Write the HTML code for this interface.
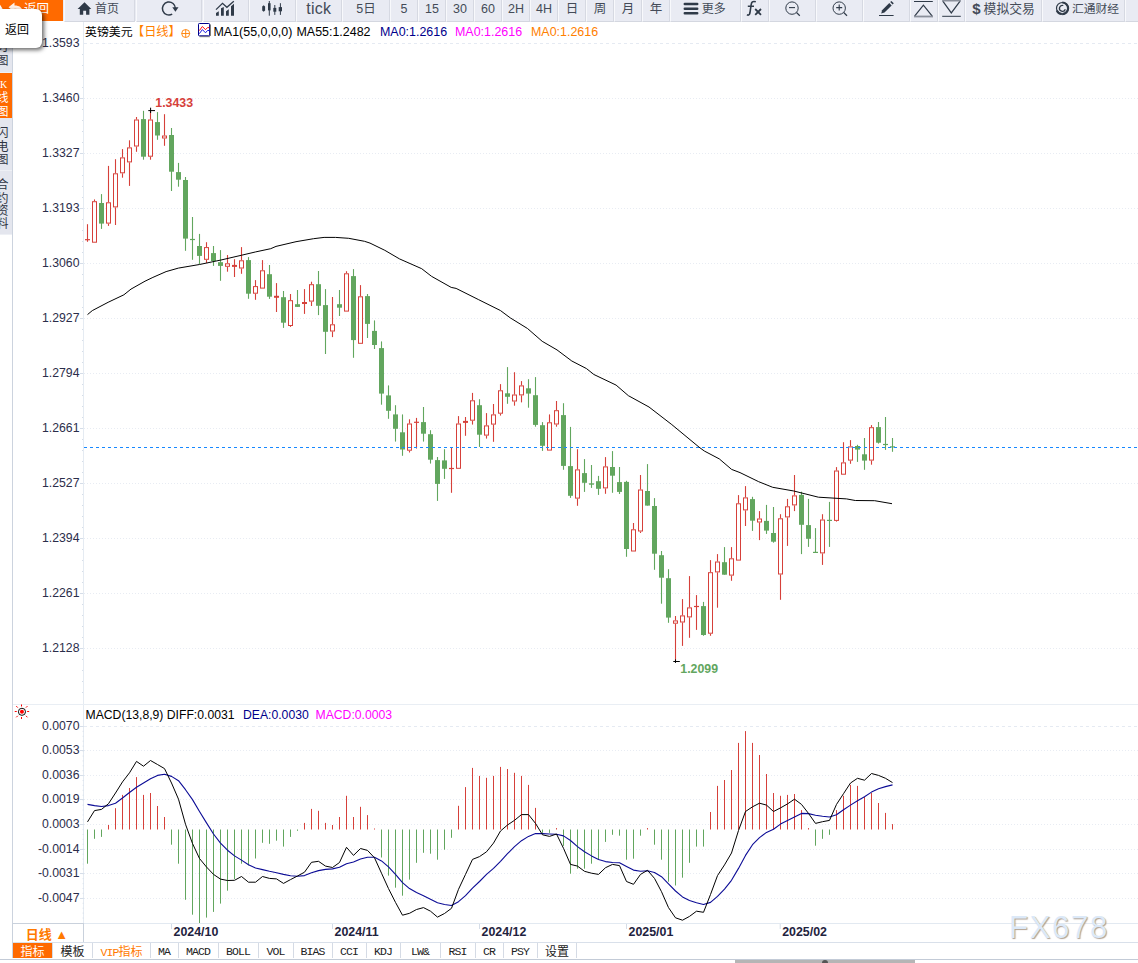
<!DOCTYPE html>
<html><head><meta charset="utf-8"><title>chart</title>
<style>
html,body{margin:0;padding:0;background:#fff}
body{width:1138px;height:963px;position:relative;overflow:hidden;font-family:"Liberation Sans","Noto Sans CJK SC",sans-serif;font-size:12px;color:#000}
#tbar{position:absolute;left:0;top:0;width:1138px;height:21px;background:#e9ebf3}
.tb{position:absolute;top:0;height:22px;box-sizing:border-box;border-left:1px solid #f8f9fc;border-right:1px solid #d6d9e2;border-bottom:1px solid #d4d7e0;display:flex;align-items:center;justify-content:center;padding-bottom:3px;line-height:18px;font-size:13px;color:#444b58;white-space:nowrap;overflow:hidden}
.tb svg{display:inline-block}
.cj{font-size:12.5px}
#back{position:absolute;left:0;top:0;width:63px;height:21px;background:#ff6a00;color:#fff;line-height:19px;font-size:13px}
#tip{position:absolute;left:-6px;top:9px;width:47.5px;height:39px;background:#fff;border-radius:6px;box-shadow:2px 2px 4px rgba(0,0,0,.6);font-size:12px;line-height:43px;color:#000}
#tip span{position:absolute;left:11px;top:0}
#side{position:absolute;left:0;top:21px;width:12px;height:937px;overflow:hidden;border-right:1px solid #ccd3de;background:#fff}
.st{position:absolute;left:0;width:12px;overflow:hidden;background:#e4e6ee;color:#333a48;font-family:"Liberation Serif","Noto Sans CJK SC",sans-serif;font-size:12px;line-height:13.5px;border-bottom:1px solid #eef0f5;box-sizing:border-box}
.sc{position:absolute;left:-3.5px;width:12px;height:12px;line-height:12px;font-size:12px;text-align:center;color:#2e3442;font-family:"Noto Sans CJK SC",sans-serif;overflow:visible}
.st i{font-style:normal;display:block;margin-left:-4.5px;width:14px;text-align:center}
svg text.ax{font-size:12.25px;fill:#2b2d4a;font-family:"Liberation Sans",sans-serif}
svg text.hl{font-size:12.35px;font-weight:bold;font-family:"Liberation Sans",sans-serif}
svg text.dt{font-size:12.4px;font-weight:bold;fill:#1f2340;font-family:"Liberation Sans",sans-serif}
#chart{position:absolute;left:0;top:0}
.lg{position:absolute;top:24.5px;font-size:12.45px;line-height:14px;white-space:nowrap}
#per{position:absolute;left:12px;top:923px;width:70px;height:18px;border:1px solid #c9d1dc;box-sizing:content-box;background:#fff;color:#ff7a00;font-weight:bold;font-size:13px;line-height:21px;text-align:center;text-indent:-2px}
#tabs{position:absolute;left:13px;top:942px;width:1125px;height:16px;border-top:1px solid #d9e0ea;background:#fff}
#bl{position:absolute;left:0;top:959px;width:1138px;height:1px;background:#c3cbd7}
.tab{position:absolute;top:0;height:15px;line-height:15px;text-align:center;font-family:"Noto Sans CJK SC",sans-serif;font-size:12px;color:#222;border-right:1px solid #d5dbe5;box-sizing:content-box;white-space:nowrap}
.tab.on{background:#ff6a00;color:#fff}
.tab.vip{color:#ff7a00}
.tab.m{font-family:"Liberation Mono",monospace;font-size:11.5px;letter-spacing:-0.9px;color:#222;line-height:18px;text-indent:-0.9px}
#wm{position:absolute;left:1009px;top:910px;font-size:31px;letter-spacing:1.7px;color:#dce9f8;text-shadow:1px 1px 1px rgba(150,130,110,.75);line-height:36px;font-family:"Liberation Sans",sans-serif}
#thumb{position:absolute;left:735px;top:960px;width:180px;height:3px;background:#b5b5b5}
</style></head><body>
<svg id="chart" width="1138" height="963" viewBox="0 0 1138 963">
<line x1="84" y1="43.5" x2="1138" y2="43.5" stroke="#e5eaf2" stroke-dasharray="3 3"/>
<text x="79.5" y="47.2" text-anchor="end" class="ax">1.3593</text>
<line x1="84" y1="98.5" x2="1138" y2="98.5" stroke="#e8ecf3" stroke-dasharray="1 2"/>
<line x1="80" y1="98.5" x2="84" y2="98.5" stroke="#d5dde8"/>
<text x="79.5" y="102.2" text-anchor="end" class="ax">1.3460</text>
<line x1="84" y1="153.5" x2="1138" y2="153.5" stroke="#e8ecf3" stroke-dasharray="1 2"/>
<line x1="80" y1="153.5" x2="84" y2="153.5" stroke="#d5dde8"/>
<text x="79.5" y="157.2" text-anchor="end" class="ax">1.3327</text>
<line x1="84" y1="208.5" x2="1138" y2="208.5" stroke="#e8ecf3" stroke-dasharray="1 2"/>
<line x1="80" y1="208.5" x2="84" y2="208.5" stroke="#d5dde8"/>
<text x="79.5" y="212.2" text-anchor="end" class="ax">1.3193</text>
<line x1="84" y1="263.5" x2="1138" y2="263.5" stroke="#e8ecf3" stroke-dasharray="1 2"/>
<line x1="80" y1="263.5" x2="84" y2="263.5" stroke="#d5dde8"/>
<text x="79.5" y="267.2" text-anchor="end" class="ax">1.3060</text>
<line x1="84" y1="318.5" x2="1138" y2="318.5" stroke="#e8ecf3" stroke-dasharray="1 2"/>
<line x1="80" y1="318.5" x2="84" y2="318.5" stroke="#d5dde8"/>
<text x="79.5" y="322.2" text-anchor="end" class="ax">1.2927</text>
<line x1="84" y1="373.5" x2="1138" y2="373.5" stroke="#e8ecf3" stroke-dasharray="1 2"/>
<line x1="80" y1="373.5" x2="84" y2="373.5" stroke="#d5dde8"/>
<text x="79.5" y="377.2" text-anchor="end" class="ax">1.2794</text>
<line x1="84" y1="428.5" x2="1138" y2="428.5" stroke="#e8ecf3" stroke-dasharray="1 2"/>
<line x1="80" y1="428.5" x2="84" y2="428.5" stroke="#d5dde8"/>
<text x="79.5" y="432.2" text-anchor="end" class="ax">1.2661</text>
<line x1="84" y1="483.5" x2="1138" y2="483.5" stroke="#e8ecf3" stroke-dasharray="1 2"/>
<line x1="80" y1="483.5" x2="84" y2="483.5" stroke="#d5dde8"/>
<text x="79.5" y="487.2" text-anchor="end" class="ax">1.2527</text>
<line x1="84" y1="538.5" x2="1138" y2="538.5" stroke="#e8ecf3" stroke-dasharray="1 2"/>
<line x1="80" y1="538.5" x2="84" y2="538.5" stroke="#d5dde8"/>
<text x="79.5" y="542.2" text-anchor="end" class="ax">1.2394</text>
<line x1="84" y1="593.5" x2="1138" y2="593.5" stroke="#e8ecf3" stroke-dasharray="1 2"/>
<line x1="80" y1="593.5" x2="84" y2="593.5" stroke="#d5dde8"/>
<text x="79.5" y="597.2" text-anchor="end" class="ax">1.2261</text>
<line x1="84" y1="648.5" x2="1138" y2="648.5" stroke="#e8ecf3" stroke-dasharray="1 2"/>
<line x1="80" y1="648.5" x2="84" y2="648.5" stroke="#d5dde8"/>
<text x="79.5" y="652.2" text-anchor="end" class="ax">1.2128</text>
<line x1="82" y1="54.5" x2="84" y2="54.5" stroke="#d5dde8"/>
<line x1="82" y1="65.5" x2="84" y2="65.5" stroke="#d5dde8"/>
<line x1="82" y1="76.5" x2="84" y2="76.5" stroke="#d5dde8"/>
<line x1="82" y1="87.5" x2="84" y2="87.5" stroke="#d5dde8"/>
<line x1="82" y1="109.5" x2="84" y2="109.5" stroke="#d5dde8"/>
<line x1="82" y1="120.5" x2="84" y2="120.5" stroke="#d5dde8"/>
<line x1="82" y1="131.5" x2="84" y2="131.5" stroke="#d5dde8"/>
<line x1="82" y1="142.5" x2="84" y2="142.5" stroke="#d5dde8"/>
<line x1="82" y1="164.5" x2="84" y2="164.5" stroke="#d5dde8"/>
<line x1="82" y1="175.5" x2="84" y2="175.5" stroke="#d5dde8"/>
<line x1="82" y1="186.5" x2="84" y2="186.5" stroke="#d5dde8"/>
<line x1="82" y1="197.5" x2="84" y2="197.5" stroke="#d5dde8"/>
<line x1="82" y1="219.5" x2="84" y2="219.5" stroke="#d5dde8"/>
<line x1="82" y1="230.5" x2="84" y2="230.5" stroke="#d5dde8"/>
<line x1="82" y1="241.5" x2="84" y2="241.5" stroke="#d5dde8"/>
<line x1="82" y1="252.5" x2="84" y2="252.5" stroke="#d5dde8"/>
<line x1="82" y1="274.5" x2="84" y2="274.5" stroke="#d5dde8"/>
<line x1="82" y1="285.5" x2="84" y2="285.5" stroke="#d5dde8"/>
<line x1="82" y1="296.5" x2="84" y2="296.5" stroke="#d5dde8"/>
<line x1="82" y1="307.5" x2="84" y2="307.5" stroke="#d5dde8"/>
<line x1="82" y1="329.5" x2="84" y2="329.5" stroke="#d5dde8"/>
<line x1="82" y1="340.5" x2="84" y2="340.5" stroke="#d5dde8"/>
<line x1="82" y1="351.5" x2="84" y2="351.5" stroke="#d5dde8"/>
<line x1="82" y1="362.5" x2="84" y2="362.5" stroke="#d5dde8"/>
<line x1="82" y1="384.5" x2="84" y2="384.5" stroke="#d5dde8"/>
<line x1="82" y1="395.5" x2="84" y2="395.5" stroke="#d5dde8"/>
<line x1="82" y1="406.5" x2="84" y2="406.5" stroke="#d5dde8"/>
<line x1="82" y1="417.5" x2="84" y2="417.5" stroke="#d5dde8"/>
<line x1="82" y1="439.5" x2="84" y2="439.5" stroke="#d5dde8"/>
<line x1="82" y1="450.5" x2="84" y2="450.5" stroke="#d5dde8"/>
<line x1="82" y1="461.5" x2="84" y2="461.5" stroke="#d5dde8"/>
<line x1="82" y1="472.5" x2="84" y2="472.5" stroke="#d5dde8"/>
<line x1="82" y1="494.5" x2="84" y2="494.5" stroke="#d5dde8"/>
<line x1="82" y1="505.5" x2="84" y2="505.5" stroke="#d5dde8"/>
<line x1="82" y1="516.5" x2="84" y2="516.5" stroke="#d5dde8"/>
<line x1="82" y1="527.5" x2="84" y2="527.5" stroke="#d5dde8"/>
<line x1="82" y1="549.5" x2="84" y2="549.5" stroke="#d5dde8"/>
<line x1="82" y1="560.5" x2="84" y2="560.5" stroke="#d5dde8"/>
<line x1="82" y1="571.5" x2="84" y2="571.5" stroke="#d5dde8"/>
<line x1="82" y1="582.5" x2="84" y2="582.5" stroke="#d5dde8"/>
<line x1="82" y1="604.5" x2="84" y2="604.5" stroke="#d5dde8"/>
<line x1="82" y1="615.5" x2="84" y2="615.5" stroke="#d5dde8"/>
<line x1="82" y1="626.5" x2="84" y2="626.5" stroke="#d5dde8"/>
<line x1="82" y1="637.5" x2="84" y2="637.5" stroke="#d5dde8"/>
<line x1="82" y1="659.5" x2="84" y2="659.5" stroke="#d5dde8"/>
<line x1="82" y1="670.5" x2="84" y2="670.5" stroke="#d5dde8"/>
<line x1="82" y1="681.5" x2="84" y2="681.5" stroke="#d5dde8"/>
<line x1="82" y1="692.5" x2="84" y2="692.5" stroke="#d5dde8"/>
<line x1="83.5" y1="22" x2="83.5" y2="923" stroke="#e5ebf2"/>
<line x1="13" y1="704.5" x2="1138" y2="704.5" stroke="#e9eef4"/>
<line x1="84" y1="726.5" x2="1138" y2="726.5" stroke="#e5eaf2" stroke-dasharray="3 3"/>
<line x1="80" y1="726.5" x2="84" y2="726.5" stroke="#d5dde8"/>
<text x="79.5" y="730.2" text-anchor="end" class="ax">0.0070</text>
<line x1="84" y1="750.5" x2="1138" y2="750.5" stroke="#e8ecf3" stroke-dasharray="1 2"/>
<line x1="80" y1="750.5" x2="84" y2="750.5" stroke="#d5dde8"/>
<text x="79.5" y="754.4000000000001" text-anchor="end" class="ax">0.0053</text>
<line x1="84" y1="775.5" x2="1138" y2="775.5" stroke="#e8ecf3" stroke-dasharray="1 2"/>
<line x1="80" y1="775.5" x2="84" y2="775.5" stroke="#d5dde8"/>
<text x="79.5" y="779.0" text-anchor="end" class="ax">0.0036</text>
<line x1="84" y1="799.5" x2="1138" y2="799.5" stroke="#e8ecf3" stroke-dasharray="1 2"/>
<line x1="80" y1="799.5" x2="84" y2="799.5" stroke="#d5dde8"/>
<text x="79.5" y="803.3000000000001" text-anchor="end" class="ax">0.0019</text>
<line x1="84" y1="824.5" x2="1138" y2="824.5" stroke="#e8ecf3" stroke-dasharray="1 2"/>
<line x1="80" y1="824.5" x2="84" y2="824.5" stroke="#d5dde8"/>
<text x="79.5" y="828.3000000000001" text-anchor="end" class="ax">0.0003</text>
<line x1="84" y1="849.5" x2="1138" y2="849.5" stroke="#e8ecf3" stroke-dasharray="1 2"/>
<line x1="80" y1="849.5" x2="84" y2="849.5" stroke="#d5dde8"/>
<text x="79.5" y="853.2" text-anchor="end" class="ax">-0.0014</text>
<line x1="84" y1="873.5" x2="1138" y2="873.5" stroke="#e8ecf3" stroke-dasharray="1 2"/>
<line x1="80" y1="873.5" x2="84" y2="873.5" stroke="#d5dde8"/>
<text x="79.5" y="877.3000000000001" text-anchor="end" class="ax">-0.0031</text>
<line x1="84" y1="898.5" x2="1138" y2="898.5" stroke="#e8ecf3" stroke-dasharray="1 2"/>
<line x1="80" y1="898.5" x2="84" y2="898.5" stroke="#d5dde8"/>
<text x="79.5" y="901.9000000000001" text-anchor="end" class="ax">-0.0047</text>
<line x1="82.5" y1="726.5" x2="84" y2="726.5" stroke="#dbe2ec" stroke-width="0.8"/>
<line x1="82.5" y1="731.4" x2="84" y2="731.4" stroke="#dbe2ec" stroke-width="0.8"/>
<line x1="82.5" y1="736.3" x2="84" y2="736.3" stroke="#dbe2ec" stroke-width="0.8"/>
<line x1="82.5" y1="741.2" x2="84" y2="741.2" stroke="#dbe2ec" stroke-width="0.8"/>
<line x1="82.5" y1="746.1" x2="84" y2="746.1" stroke="#dbe2ec" stroke-width="0.8"/>
<line x1="82.5" y1="751.0" x2="84" y2="751.0" stroke="#dbe2ec" stroke-width="0.8"/>
<line x1="82.5" y1="756.0" x2="84" y2="756.0" stroke="#dbe2ec" stroke-width="0.8"/>
<line x1="82.5" y1="760.9" x2="84" y2="760.9" stroke="#dbe2ec" stroke-width="0.8"/>
<line x1="82.5" y1="765.8" x2="84" y2="765.8" stroke="#dbe2ec" stroke-width="0.8"/>
<line x1="82.5" y1="770.7" x2="84" y2="770.7" stroke="#dbe2ec" stroke-width="0.8"/>
<line x1="82.5" y1="775.6" x2="84" y2="775.6" stroke="#dbe2ec" stroke-width="0.8"/>
<line x1="82.5" y1="780.5" x2="84" y2="780.5" stroke="#dbe2ec" stroke-width="0.8"/>
<line x1="82.5" y1="785.4" x2="84" y2="785.4" stroke="#dbe2ec" stroke-width="0.8"/>
<line x1="82.5" y1="790.3" x2="84" y2="790.3" stroke="#dbe2ec" stroke-width="0.8"/>
<line x1="82.5" y1="795.2" x2="84" y2="795.2" stroke="#dbe2ec" stroke-width="0.8"/>
<line x1="82.5" y1="800.1" x2="84" y2="800.1" stroke="#dbe2ec" stroke-width="0.8"/>
<line x1="82.5" y1="805.1" x2="84" y2="805.1" stroke="#dbe2ec" stroke-width="0.8"/>
<line x1="82.5" y1="810.0" x2="84" y2="810.0" stroke="#dbe2ec" stroke-width="0.8"/>
<line x1="82.5" y1="814.9" x2="84" y2="814.9" stroke="#dbe2ec" stroke-width="0.8"/>
<line x1="82.5" y1="819.8" x2="84" y2="819.8" stroke="#dbe2ec" stroke-width="0.8"/>
<line x1="82.5" y1="824.7" x2="84" y2="824.7" stroke="#dbe2ec" stroke-width="0.8"/>
<line x1="82.5" y1="829.6" x2="84" y2="829.6" stroke="#dbe2ec" stroke-width="0.8"/>
<line x1="82.5" y1="834.5" x2="84" y2="834.5" stroke="#dbe2ec" stroke-width="0.8"/>
<line x1="82.5" y1="839.4" x2="84" y2="839.4" stroke="#dbe2ec" stroke-width="0.8"/>
<line x1="82.5" y1="844.3" x2="84" y2="844.3" stroke="#dbe2ec" stroke-width="0.8"/>
<line x1="82.5" y1="849.2" x2="84" y2="849.2" stroke="#dbe2ec" stroke-width="0.8"/>
<line x1="82.5" y1="854.2" x2="84" y2="854.2" stroke="#dbe2ec" stroke-width="0.8"/>
<line x1="82.5" y1="859.1" x2="84" y2="859.1" stroke="#dbe2ec" stroke-width="0.8"/>
<line x1="82.5" y1="864.0" x2="84" y2="864.0" stroke="#dbe2ec" stroke-width="0.8"/>
<line x1="82.5" y1="868.9" x2="84" y2="868.9" stroke="#dbe2ec" stroke-width="0.8"/>
<line x1="82.5" y1="873.8" x2="84" y2="873.8" stroke="#dbe2ec" stroke-width="0.8"/>
<line x1="82.5" y1="878.7" x2="84" y2="878.7" stroke="#dbe2ec" stroke-width="0.8"/>
<line x1="82.5" y1="883.6" x2="84" y2="883.6" stroke="#dbe2ec" stroke-width="0.8"/>
<line x1="82.5" y1="888.5" x2="84" y2="888.5" stroke="#dbe2ec" stroke-width="0.8"/>
<line x1="82.5" y1="893.4" x2="84" y2="893.4" stroke="#dbe2ec" stroke-width="0.8"/>
<line x1="82.5" y1="898.3" x2="84" y2="898.3" stroke="#dbe2ec" stroke-width="0.8"/>
<line x1="82.5" y1="903.3" x2="84" y2="903.3" stroke="#dbe2ec" stroke-width="0.8"/>
<line x1="82.5" y1="908.2" x2="84" y2="908.2" stroke="#dbe2ec" stroke-width="0.8"/>
<line x1="82.5" y1="913.1" x2="84" y2="913.1" stroke="#dbe2ec" stroke-width="0.8"/>
<line x1="82.5" y1="918.0" x2="84" y2="918.0" stroke="#dbe2ec" stroke-width="0.8"/>
<line x1="87.5" y1="224.2" x2="87.5" y2="241.8" stroke="#d6403a" stroke-width="1.1"/>
<line x1="85.0" y1="239.7" x2="90.0" y2="239.7" stroke="#d6403a" stroke-width="1.2"/>
<line x1="94.5" y1="199.4" x2="94.5" y2="201.2" stroke="#d6403a" stroke-width="1.1"/>
<rect x="92.5" y="201.7" width="4" height="40.5" fill="#fff" stroke="#d6403a" stroke-width="1"/>
<line x1="101.5" y1="194.1" x2="101.5" y2="228.9" stroke="#62a65e" stroke-width="1.1"/>
<rect x="99.0" y="203.0" width="5" height="20.6" fill="#62a65e"/>
<line x1="108.5" y1="165.9" x2="108.5" y2="202.3" stroke="#d6403a" stroke-width="1.1"/>
<line x1="108.5" y1="223.6" x2="108.5" y2="225.9" stroke="#d6403a" stroke-width="1.1"/>
<rect x="106.5" y="202.8" width="4" height="20.3" fill="#fff" stroke="#d6403a" stroke-width="1"/>
<line x1="115.5" y1="159.2" x2="115.5" y2="173.3" stroke="#d6403a" stroke-width="1.1"/>
<line x1="115.5" y1="207.4" x2="115.5" y2="225.0" stroke="#d6403a" stroke-width="1.1"/>
<rect x="113.5" y="173.8" width="4" height="33.1" fill="#fff" stroke="#d6403a" stroke-width="1"/>
<line x1="122.5" y1="149.1" x2="122.5" y2="157.4" stroke="#d6403a" stroke-width="1.1"/>
<line x1="122.5" y1="173.3" x2="122.5" y2="177.7" stroke="#d6403a" stroke-width="1.1"/>
<rect x="120.5" y="157.9" width="4" height="14.9" fill="#fff" stroke="#d6403a" stroke-width="1"/>
<line x1="129.5" y1="140.3" x2="129.5" y2="147.4" stroke="#d6403a" stroke-width="1.1"/>
<line x1="129.5" y1="162.4" x2="129.5" y2="185.9" stroke="#d6403a" stroke-width="1.1"/>
<rect x="127.5" y="147.9" width="4" height="14.0" fill="#fff" stroke="#d6403a" stroke-width="1"/>
<line x1="136.5" y1="117.0" x2="136.5" y2="119.5" stroke="#d6403a" stroke-width="1.1"/>
<line x1="136.5" y1="146.5" x2="136.5" y2="151.8" stroke="#d6403a" stroke-width="1.1"/>
<rect x="134.5" y="120.0" width="4" height="26.0" fill="#fff" stroke="#d6403a" stroke-width="1"/>
<line x1="143.5" y1="110.8" x2="143.5" y2="159.7" stroke="#62a65e" stroke-width="1.1"/>
<rect x="141.0" y="119.1" width="5" height="37.6" fill="#62a65e"/>
<line x1="150.5" y1="110.8" x2="150.5" y2="119.5" stroke="#d6403a" stroke-width="1.1"/>
<line x1="150.5" y1="156.7" x2="150.5" y2="159.7" stroke="#d6403a" stroke-width="1.1"/>
<rect x="148.5" y="120.0" width="4" height="36.2" fill="#fff" stroke="#d6403a" stroke-width="1"/>
<line x1="157.5" y1="112.1" x2="157.5" y2="139.8" stroke="#62a65e" stroke-width="1.1"/>
<rect x="155.0" y="122.1" width="5" height="13.4" fill="#62a65e"/>
<line x1="164.5" y1="114.2" x2="164.5" y2="135.5" stroke="#d6403a" stroke-width="1.1"/>
<line x1="164.5" y1="138.5" x2="164.5" y2="145.8" stroke="#d6403a" stroke-width="1.1"/>
<rect x="162.5" y="136.0" width="4" height="2.0" fill="#fff" stroke="#d6403a" stroke-width="1"/>
<line x1="171.5" y1="128.0" x2="171.5" y2="191.0" stroke="#62a65e" stroke-width="1.1"/>
<rect x="169.0" y="135.0" width="5" height="36.7" fill="#62a65e"/>
<line x1="178.5" y1="162.9" x2="178.5" y2="186.7" stroke="#62a65e" stroke-width="1.1"/>
<rect x="176.0" y="172.1" width="5" height="7.6" fill="#62a65e"/>
<line x1="185.5" y1="177.0" x2="185.5" y2="250.8" stroke="#62a65e" stroke-width="1.1"/>
<rect x="183.0" y="180.0" width="5" height="58.6" fill="#62a65e"/>
<line x1="192.5" y1="217.0" x2="192.5" y2="259.8" stroke="#62a65e" stroke-width="1.1"/>
<line x1="190.0" y1="239.5" x2="195.0" y2="239.5" stroke="#62a65e" stroke-width="1.2"/>
<line x1="199.5" y1="233.9" x2="199.5" y2="264.1" stroke="#62a65e" stroke-width="1.1"/>
<rect x="197.0" y="246.0" width="5" height="9.9" fill="#62a65e"/>
<line x1="206.5" y1="242.2" x2="206.5" y2="247.1" stroke="#d6403a" stroke-width="1.1"/>
<line x1="206.5" y1="259.8" x2="206.5" y2="262.9" stroke="#d6403a" stroke-width="1.1"/>
<rect x="204.5" y="247.6" width="4" height="11.7" fill="#fff" stroke="#d6403a" stroke-width="1"/>
<line x1="213.5" y1="246.0" x2="213.5" y2="265.9" stroke="#62a65e" stroke-width="1.1"/>
<rect x="211.0" y="253.1" width="5" height="7.9" fill="#62a65e"/>
<line x1="220.5" y1="250.1" x2="220.5" y2="280.8" stroke="#62a65e" stroke-width="1.1"/>
<rect x="218.0" y="262.2" width="5" height="3.7" fill="#62a65e"/>
<line x1="227.5" y1="255.0" x2="227.5" y2="263.3" stroke="#d6403a" stroke-width="1.1"/>
<line x1="227.5" y1="266.8" x2="227.5" y2="271.7" stroke="#d6403a" stroke-width="1.1"/>
<rect x="225.5" y="263.8" width="4" height="2.5" fill="#fff" stroke="#d6403a" stroke-width="1"/>
<line x1="234.5" y1="259.2" x2="234.5" y2="277.0" stroke="#d6403a" stroke-width="1.1"/>
<line x1="232.0" y1="265.9" x2="237.0" y2="265.9" stroke="#d6403a" stroke-width="2"/>
<line x1="241.5" y1="247.1" x2="241.5" y2="260.3" stroke="#d6403a" stroke-width="1.1"/>
<line x1="241.5" y1="268.5" x2="241.5" y2="273.8" stroke="#d6403a" stroke-width="1.1"/>
<rect x="239.5" y="260.8" width="4" height="7.2" fill="#fff" stroke="#d6403a" stroke-width="1"/>
<line x1="248.5" y1="257.1" x2="248.5" y2="298.8" stroke="#62a65e" stroke-width="1.1"/>
<rect x="246.0" y="260.1" width="5" height="33.6" fill="#62a65e"/>
<line x1="255.5" y1="280.1" x2="255.5" y2="286.1" stroke="#d6403a" stroke-width="1.1"/>
<line x1="255.5" y1="293.7" x2="255.5" y2="299.8" stroke="#d6403a" stroke-width="1.1"/>
<rect x="253.5" y="286.6" width="4" height="6.6" fill="#fff" stroke="#d6403a" stroke-width="1"/>
<line x1="262.5" y1="260.1" x2="262.5" y2="270.3" stroke="#d6403a" stroke-width="1.1"/>
<rect x="260.5" y="270.8" width="4" height="17.3" fill="#fff" stroke="#d6403a" stroke-width="1"/>
<line x1="269.5" y1="265.0" x2="269.5" y2="298.9" stroke="#62a65e" stroke-width="1.1"/>
<rect x="267.0" y="274.2" width="5" height="22.5" fill="#62a65e"/>
<line x1="276.5" y1="283.1" x2="276.5" y2="312.0" stroke="#d6403a" stroke-width="1.1"/>
<line x1="274.0" y1="296.8" x2="279.0" y2="296.8" stroke="#d6403a" stroke-width="2"/>
<line x1="283.5" y1="291.0" x2="283.5" y2="327.9" stroke="#62a65e" stroke-width="1.1"/>
<rect x="281.0" y="297.2" width="5" height="25.5" fill="#62a65e"/>
<line x1="290.5" y1="294.0" x2="290.5" y2="300.2" stroke="#d6403a" stroke-width="1.1"/>
<line x1="290.5" y1="326.0" x2="290.5" y2="326.9" stroke="#d6403a" stroke-width="1.1"/>
<rect x="288.5" y="300.7" width="4" height="24.8" fill="#fff" stroke="#d6403a" stroke-width="1"/>
<line x1="297.5" y1="290.0" x2="297.5" y2="306.9" stroke="#62a65e" stroke-width="1.1"/>
<rect x="295.0" y="304.2" width="5" height="2.7" fill="#62a65e"/>
<line x1="304.5" y1="289.1" x2="304.5" y2="313.9" stroke="#d6403a" stroke-width="1.1"/>
<line x1="302.0" y1="303.0" x2="307.0" y2="303.0" stroke="#d6403a" stroke-width="2"/>
<line x1="311.5" y1="281.7" x2="311.5" y2="284.2" stroke="#d6403a" stroke-width="1.1"/>
<line x1="311.5" y1="301.6" x2="311.5" y2="306.0" stroke="#d6403a" stroke-width="1.1"/>
<rect x="309.5" y="284.7" width="4" height="16.4" fill="#fff" stroke="#d6403a" stroke-width="1"/>
<line x1="318.5" y1="271.0" x2="318.5" y2="315.1" stroke="#62a65e" stroke-width="1.1"/>
<rect x="316.0" y="284.2" width="5" height="21.6" fill="#62a65e"/>
<line x1="325.5" y1="289.1" x2="325.5" y2="354.0" stroke="#62a65e" stroke-width="1.1"/>
<rect x="323.0" y="305.1" width="5" height="26.7" fill="#62a65e"/>
<line x1="332.5" y1="297.0" x2="332.5" y2="324.3" stroke="#d6403a" stroke-width="1.1"/>
<line x1="332.5" y1="331.5" x2="332.5" y2="337.1" stroke="#d6403a" stroke-width="1.1"/>
<rect x="330.5" y="324.8" width="4" height="6.2" fill="#fff" stroke="#d6403a" stroke-width="1"/>
<line x1="339.5" y1="290.0" x2="339.5" y2="316.0" stroke="#62a65e" stroke-width="1.1"/>
<rect x="337.0" y="304.2" width="5" height="3.5" fill="#62a65e"/>
<line x1="346.5" y1="271.2" x2="346.5" y2="273.3" stroke="#d6403a" stroke-width="1.1"/>
<rect x="344.5" y="273.8" width="4" height="37.3" fill="#fff" stroke="#d6403a" stroke-width="1"/>
<line x1="353.5" y1="269.1" x2="353.5" y2="357.8" stroke="#62a65e" stroke-width="1.1"/>
<rect x="351.0" y="276.1" width="5" height="64.0" fill="#62a65e"/>
<line x1="360.5" y1="285.1" x2="360.5" y2="296.3" stroke="#d6403a" stroke-width="1.1"/>
<rect x="358.5" y="296.8" width="4" height="46.5" fill="#fff" stroke="#d6403a" stroke-width="1"/>
<line x1="367.5" y1="294.0" x2="367.5" y2="338.0" stroke="#62a65e" stroke-width="1.1"/>
<rect x="365.0" y="296.1" width="5" height="27.8" fill="#62a65e"/>
<line x1="374.5" y1="320.4" x2="374.5" y2="349.0" stroke="#62a65e" stroke-width="1.1"/>
<rect x="372.0" y="330.9" width="5" height="14.1" fill="#62a65e"/>
<line x1="381.5" y1="341.4" x2="381.5" y2="404.7" stroke="#62a65e" stroke-width="1.1"/>
<rect x="379.0" y="348.1" width="5" height="45.5" fill="#62a65e"/>
<line x1="388.5" y1="385.4" x2="388.5" y2="418.8" stroke="#62a65e" stroke-width="1.1"/>
<rect x="386.0" y="395.4" width="5" height="15.4" fill="#62a65e"/>
<line x1="395.5" y1="405.2" x2="395.5" y2="441.6" stroke="#62a65e" stroke-width="1.1"/>
<rect x="393.0" y="414.4" width="5" height="14.4" fill="#62a65e"/>
<line x1="402.5" y1="414.4" x2="402.5" y2="455.8" stroke="#62a65e" stroke-width="1.1"/>
<rect x="400.0" y="432.3" width="5" height="17.2" fill="#62a65e"/>
<line x1="409.5" y1="419.3" x2="409.5" y2="423.5" stroke="#d6403a" stroke-width="1.1"/>
<line x1="409.5" y1="450.7" x2="409.5" y2="452.5" stroke="#d6403a" stroke-width="1.1"/>
<rect x="407.5" y="424.0" width="4" height="26.2" fill="#fff" stroke="#d6403a" stroke-width="1"/>
<line x1="416.5" y1="417.9" x2="416.5" y2="448.6" stroke="#d6403a" stroke-width="1.1"/>
<line x1="414.0" y1="422.3" x2="419.0" y2="422.3" stroke="#d6403a" stroke-width="1.2"/>
<line x1="423.5" y1="407.0" x2="423.5" y2="441.6" stroke="#62a65e" stroke-width="1.1"/>
<rect x="421.0" y="422.1" width="5" height="11.6" fill="#62a65e"/>
<line x1="430.5" y1="430.2" x2="430.5" y2="463.6" stroke="#62a65e" stroke-width="1.1"/>
<rect x="428.0" y="434.2" width="5" height="25.5" fill="#62a65e"/>
<line x1="437.5" y1="457.0" x2="437.5" y2="500.9" stroke="#62a65e" stroke-width="1.1"/>
<rect x="435.0" y="460.1" width="5" height="23.8" fill="#62a65e"/>
<line x1="444.5" y1="449.2" x2="444.5" y2="478.9" stroke="#62a65e" stroke-width="1.1"/>
<rect x="442.0" y="460.4" width="5" height="8.4" fill="#62a65e"/>
<line x1="451.5" y1="447.4" x2="451.5" y2="492.8" stroke="#d6403a" stroke-width="1.1"/>
<line x1="449.0" y1="468.5" x2="454.0" y2="468.5" stroke="#d6403a" stroke-width="1.2"/>
<line x1="458.5" y1="416.1" x2="458.5" y2="423.5" stroke="#d6403a" stroke-width="1.1"/>
<rect x="456.5" y="424.0" width="4" height="44.3" fill="#fff" stroke="#d6403a" stroke-width="1"/>
<line x1="465.5" y1="417.0" x2="465.5" y2="435.8" stroke="#d6403a" stroke-width="1.1"/>
<line x1="463.0" y1="421.9" x2="468.0" y2="421.9" stroke="#d6403a" stroke-width="2"/>
<line x1="472.5" y1="392.9" x2="472.5" y2="400.3" stroke="#d6403a" stroke-width="1.1"/>
<line x1="472.5" y1="420.7" x2="472.5" y2="424.6" stroke="#d6403a" stroke-width="1.1"/>
<rect x="470.5" y="400.8" width="4" height="19.4" fill="#fff" stroke="#d6403a" stroke-width="1"/>
<line x1="479.5" y1="399.2" x2="479.5" y2="446.9" stroke="#62a65e" stroke-width="1.1"/>
<rect x="477.0" y="405.2" width="5" height="29.5" fill="#62a65e"/>
<line x1="486.5" y1="413.1" x2="486.5" y2="425.4" stroke="#d6403a" stroke-width="1.1"/>
<line x1="486.5" y1="435.6" x2="486.5" y2="438.6" stroke="#d6403a" stroke-width="1.1"/>
<rect x="484.5" y="425.9" width="4" height="9.2" fill="#fff" stroke="#d6403a" stroke-width="1"/>
<line x1="493.5" y1="404.0" x2="493.5" y2="414.4" stroke="#d6403a" stroke-width="1.1"/>
<line x1="493.5" y1="424.6" x2="493.5" y2="441.8" stroke="#d6403a" stroke-width="1.1"/>
<rect x="491.5" y="414.9" width="4" height="9.2" fill="#fff" stroke="#d6403a" stroke-width="1"/>
<line x1="500.5" y1="384.1" x2="500.5" y2="390.3" stroke="#d6403a" stroke-width="1.1"/>
<line x1="500.5" y1="413.7" x2="500.5" y2="415.6" stroke="#d6403a" stroke-width="1.1"/>
<rect x="498.5" y="390.8" width="4" height="22.4" fill="#fff" stroke="#d6403a" stroke-width="1"/>
<line x1="507.5" y1="367.1" x2="507.5" y2="403.8" stroke="#62a65e" stroke-width="1.1"/>
<rect x="505.0" y="393.3" width="5" height="3.5" fill="#62a65e"/>
<line x1="514.5" y1="372.2" x2="514.5" y2="394.5" stroke="#d6403a" stroke-width="1.1"/>
<line x1="514.5" y1="401.5" x2="514.5" y2="405.7" stroke="#d6403a" stroke-width="1.1"/>
<rect x="512.5" y="395.0" width="4" height="6.0" fill="#fff" stroke="#d6403a" stroke-width="1"/>
<line x1="521.5" y1="381.1" x2="521.5" y2="385.4" stroke="#d6403a" stroke-width="1.1"/>
<line x1="521.5" y1="395.4" x2="521.5" y2="402.4" stroke="#d6403a" stroke-width="1.1"/>
<rect x="519.5" y="385.9" width="4" height="9.0" fill="#fff" stroke="#d6403a" stroke-width="1"/>
<line x1="528.5" y1="379.2" x2="528.5" y2="407.7" stroke="#62a65e" stroke-width="1.1"/>
<rect x="526.0" y="388.3" width="5" height="5.3" fill="#62a65e"/>
<line x1="535.5" y1="377.1" x2="535.5" y2="426.7" stroke="#62a65e" stroke-width="1.1"/>
<rect x="533.0" y="395.2" width="5" height="29.7" fill="#62a65e"/>
<line x1="542.5" y1="422.1" x2="542.5" y2="450.9" stroke="#62a65e" stroke-width="1.1"/>
<rect x="540.0" y="425.2" width="5" height="20.6" fill="#62a65e"/>
<line x1="549.5" y1="414.4" x2="549.5" y2="422.3" stroke="#d6403a" stroke-width="1.1"/>
<rect x="547.5" y="422.8" width="4" height="27.3" fill="#fff" stroke="#d6403a" stroke-width="1"/>
<line x1="556.5" y1="401.0" x2="556.5" y2="410.2" stroke="#d6403a" stroke-width="1.1"/>
<line x1="556.5" y1="424.5" x2="556.5" y2="426.7" stroke="#d6403a" stroke-width="1.1"/>
<rect x="554.5" y="410.7" width="4" height="13.3" fill="#fff" stroke="#d6403a" stroke-width="1"/>
<line x1="563.5" y1="403.2" x2="563.5" y2="469.8" stroke="#62a65e" stroke-width="1.1"/>
<rect x="561.0" y="415.1" width="5" height="50.8" fill="#62a65e"/>
<line x1="570.5" y1="426.9" x2="570.5" y2="497.9" stroke="#62a65e" stroke-width="1.1"/>
<rect x="568.0" y="466.1" width="5" height="29.7" fill="#62a65e"/>
<line x1="577.5" y1="449.2" x2="577.5" y2="469.4" stroke="#d6403a" stroke-width="1.1"/>
<line x1="577.5" y1="498.6" x2="577.5" y2="505.8" stroke="#d6403a" stroke-width="1.1"/>
<rect x="575.5" y="469.9" width="4" height="28.2" fill="#fff" stroke="#d6403a" stroke-width="1"/>
<line x1="584.5" y1="459.1" x2="584.5" y2="491.9" stroke="#62a65e" stroke-width="1.1"/>
<rect x="582.0" y="473.1" width="5" height="9.7" fill="#62a65e"/>
<line x1="591.5" y1="465.0" x2="591.5" y2="487.9" stroke="#62a65e" stroke-width="1.1"/>
<rect x="589.0" y="483.3" width="5" height="1.4" fill="#62a65e"/>
<line x1="598.5" y1="475.9" x2="598.5" y2="494.9" stroke="#62a65e" stroke-width="1.1"/>
<rect x="596.0" y="481.2" width="5" height="7.6" fill="#62a65e"/>
<line x1="605.5" y1="457.1" x2="605.5" y2="466.4" stroke="#d6403a" stroke-width="1.1"/>
<line x1="605.5" y1="488.4" x2="605.5" y2="493.8" stroke="#d6403a" stroke-width="1.1"/>
<rect x="603.5" y="466.9" width="4" height="21.0" fill="#fff" stroke="#d6403a" stroke-width="1"/>
<line x1="612.5" y1="451.1" x2="612.5" y2="492.8" stroke="#62a65e" stroke-width="1.1"/>
<rect x="610.0" y="467.0" width="5" height="8.7" fill="#62a65e"/>
<line x1="619.5" y1="467.0" x2="619.5" y2="494.0" stroke="#62a65e" stroke-width="1.1"/>
<rect x="617.0" y="482.1" width="5" height="9.8" fill="#62a65e"/>
<line x1="626.5" y1="480.8" x2="626.5" y2="556.8" stroke="#62a65e" stroke-width="1.1"/>
<rect x="624.0" y="481.9" width="5" height="67.1" fill="#62a65e"/>
<line x1="633.5" y1="523.0" x2="633.5" y2="529.3" stroke="#d6403a" stroke-width="1.1"/>
<rect x="631.5" y="529.8" width="4" height="21.2" fill="#fff" stroke="#d6403a" stroke-width="1"/>
<line x1="640.5" y1="475.0" x2="640.5" y2="489.5" stroke="#d6403a" stroke-width="1.1"/>
<line x1="640.5" y1="531.5" x2="640.5" y2="533.0" stroke="#d6403a" stroke-width="1.1"/>
<rect x="638.5" y="490.0" width="4" height="41.0" fill="#fff" stroke="#d6403a" stroke-width="1"/>
<line x1="647.5" y1="464.1" x2="647.5" y2="505.6" stroke="#62a65e" stroke-width="1.1"/>
<rect x="645.0" y="491.0" width="5" height="14.6" fill="#62a65e"/>
<line x1="654.5" y1="498.1" x2="654.5" y2="569.8" stroke="#62a65e" stroke-width="1.1"/>
<rect x="652.0" y="506.0" width="5" height="47.7" fill="#62a65e"/>
<line x1="661.5" y1="551.0" x2="661.5" y2="603.7" stroke="#62a65e" stroke-width="1.1"/>
<rect x="659.0" y="555.2" width="5" height="22.5" fill="#62a65e"/>
<line x1="668.5" y1="569.2" x2="668.5" y2="622.8" stroke="#62a65e" stroke-width="1.1"/>
<rect x="666.0" y="578.2" width="5" height="39.4" fill="#62a65e"/>
<line x1="675.5" y1="616.0" x2="675.5" y2="620.4" stroke="#d6403a" stroke-width="1.1"/>
<line x1="675.5" y1="623.7" x2="675.5" y2="661.5" stroke="#d6403a" stroke-width="1.1"/>
<rect x="673.5" y="620.9" width="4" height="2.3" fill="#fff" stroke="#d6403a" stroke-width="1"/>
<line x1="682.5" y1="599.1" x2="682.5" y2="615.4" stroke="#d6403a" stroke-width="1.1"/>
<line x1="682.5" y1="622.5" x2="682.5" y2="645.9" stroke="#d6403a" stroke-width="1.1"/>
<rect x="680.5" y="615.9" width="4" height="6.1" fill="#fff" stroke="#d6403a" stroke-width="1"/>
<line x1="689.5" y1="576.1" x2="689.5" y2="607.4" stroke="#d6403a" stroke-width="1.1"/>
<line x1="689.5" y1="617.4" x2="689.5" y2="637.8" stroke="#d6403a" stroke-width="1.1"/>
<rect x="687.5" y="607.9" width="4" height="9.0" fill="#fff" stroke="#d6403a" stroke-width="1"/>
<line x1="696.5" y1="595.1" x2="696.5" y2="629.9" stroke="#d6403a" stroke-width="1.1"/>
<line x1="694.0" y1="606.5" x2="699.0" y2="606.5" stroke="#d6403a" stroke-width="1.2"/>
<line x1="703.5" y1="601.9" x2="703.5" y2="635.8" stroke="#62a65e" stroke-width="1.1"/>
<rect x="701.0" y="606.1" width="5" height="28.9" fill="#62a65e"/>
<line x1="710.5" y1="560.1" x2="710.5" y2="572.2" stroke="#d6403a" stroke-width="1.1"/>
<line x1="710.5" y1="633.7" x2="710.5" y2="635.8" stroke="#d6403a" stroke-width="1.1"/>
<rect x="708.5" y="572.7" width="4" height="60.5" fill="#fff" stroke="#d6403a" stroke-width="1"/>
<line x1="717.5" y1="554.1" x2="717.5" y2="561.5" stroke="#d6403a" stroke-width="1.1"/>
<line x1="717.5" y1="572.4" x2="717.5" y2="607.7" stroke="#d6403a" stroke-width="1.1"/>
<rect x="715.5" y="562.0" width="4" height="9.9" fill="#fff" stroke="#d6403a" stroke-width="1"/>
<line x1="724.5" y1="547.1" x2="724.5" y2="574.7" stroke="#62a65e" stroke-width="1.1"/>
<rect x="722.0" y="562.2" width="5" height="12.5" fill="#62a65e"/>
<line x1="731.5" y1="547.1" x2="731.5" y2="558.3" stroke="#d6403a" stroke-width="1.1"/>
<line x1="731.5" y1="575.6" x2="731.5" y2="580.8" stroke="#d6403a" stroke-width="1.1"/>
<rect x="729.5" y="558.8" width="4" height="16.3" fill="#fff" stroke="#d6403a" stroke-width="1"/>
<line x1="738.5" y1="495.1" x2="738.5" y2="503.3" stroke="#d6403a" stroke-width="1.1"/>
<rect x="736.5" y="503.8" width="4" height="56.3" fill="#fff" stroke="#d6403a" stroke-width="1"/>
<line x1="745.5" y1="486.1" x2="745.5" y2="497.4" stroke="#d6403a" stroke-width="1.1"/>
<line x1="745.5" y1="510.4" x2="745.5" y2="526.0" stroke="#d6403a" stroke-width="1.1"/>
<rect x="743.5" y="497.9" width="4" height="12.0" fill="#fff" stroke="#d6403a" stroke-width="1"/>
<line x1="752.5" y1="496.8" x2="752.5" y2="530.9" stroke="#62a65e" stroke-width="1.1"/>
<rect x="750.0" y="499.1" width="5" height="21.6" fill="#62a65e"/>
<line x1="759.5" y1="511.1" x2="759.5" y2="518.5" stroke="#d6403a" stroke-width="1.1"/>
<line x1="759.5" y1="522.5" x2="759.5" y2="540.1" stroke="#d6403a" stroke-width="1.1"/>
<rect x="757.5" y="519.0" width="4" height="3.0" fill="#fff" stroke="#d6403a" stroke-width="1"/>
<line x1="766.5" y1="504.9" x2="766.5" y2="533.9" stroke="#62a65e" stroke-width="1.1"/>
<rect x="764.0" y="520.9" width="5" height="9.7" fill="#62a65e"/>
<line x1="773.5" y1="507.0" x2="773.5" y2="542.7" stroke="#62a65e" stroke-width="1.1"/>
<rect x="771.0" y="533.0" width="5" height="8.7" fill="#62a65e"/>
<line x1="780.5" y1="514.2" x2="780.5" y2="518.3" stroke="#d6403a" stroke-width="1.1"/>
<line x1="780.5" y1="574.5" x2="780.5" y2="599.8" stroke="#d6403a" stroke-width="1.1"/>
<rect x="778.5" y="518.8" width="4" height="55.2" fill="#fff" stroke="#d6403a" stroke-width="1"/>
<line x1="787.5" y1="498.9" x2="787.5" y2="506.3" stroke="#d6403a" stroke-width="1.1"/>
<line x1="787.5" y1="517.4" x2="787.5" y2="545.9" stroke="#d6403a" stroke-width="1.1"/>
<rect x="785.5" y="506.8" width="4" height="10.1" fill="#fff" stroke="#d6403a" stroke-width="1"/>
<line x1="794.5" y1="475.0" x2="794.5" y2="495.4" stroke="#d6403a" stroke-width="1.1"/>
<line x1="794.5" y1="505.4" x2="794.5" y2="511.1" stroke="#d6403a" stroke-width="1.1"/>
<rect x="792.5" y="495.9" width="4" height="9.0" fill="#fff" stroke="#d6403a" stroke-width="1"/>
<line x1="801.5" y1="491.7" x2="801.5" y2="554.1" stroke="#62a65e" stroke-width="1.1"/>
<rect x="799.0" y="494.9" width="5" height="29.9" fill="#62a65e"/>
<line x1="808.5" y1="498.9" x2="808.5" y2="546.9" stroke="#62a65e" stroke-width="1.1"/>
<rect x="806.0" y="525.1" width="5" height="13.7" fill="#62a65e"/>
<line x1="815.5" y1="528.1" x2="815.5" y2="552.4" stroke="#62a65e" stroke-width="1.1"/>
<line x1="813.0" y1="552.4" x2="818.0" y2="552.4" stroke="#62a65e" stroke-width="1.2"/>
<line x1="822.5" y1="514.2" x2="822.5" y2="519.5" stroke="#d6403a" stroke-width="1.1"/>
<line x1="822.5" y1="553.4" x2="822.5" y2="564.9" stroke="#d6403a" stroke-width="1.1"/>
<rect x="820.5" y="520.0" width="4" height="32.9" fill="#fff" stroke="#d6403a" stroke-width="1"/>
<line x1="829.5" y1="501.9" x2="829.5" y2="546.9" stroke="#62a65e" stroke-width="1.1"/>
<line x1="827.0" y1="520.4" x2="832.0" y2="520.4" stroke="#62a65e" stroke-width="1.2"/>
<line x1="836.5" y1="467.1" x2="836.5" y2="470.5" stroke="#d6403a" stroke-width="1.1"/>
<line x1="836.5" y1="520.9" x2="836.5" y2="521.6" stroke="#d6403a" stroke-width="1.1"/>
<rect x="834.5" y="471.0" width="4" height="49.4" fill="#fff" stroke="#d6403a" stroke-width="1"/>
<line x1="843.5" y1="442.2" x2="843.5" y2="462.4" stroke="#d6403a" stroke-width="1.1"/>
<rect x="841.5" y="462.9" width="4" height="11.3" fill="#fff" stroke="#d6403a" stroke-width="1"/>
<line x1="850.5" y1="440.1" x2="850.5" y2="446.4" stroke="#d6403a" stroke-width="1.1"/>
<line x1="850.5" y1="460.6" x2="850.5" y2="463.8" stroke="#d6403a" stroke-width="1.1"/>
<rect x="848.5" y="446.9" width="4" height="13.2" fill="#fff" stroke="#d6403a" stroke-width="1"/>
<line x1="857.5" y1="444.8" x2="857.5" y2="461.9" stroke="#62a65e" stroke-width="1.1"/>
<rect x="855.0" y="446.0" width="5" height="3.6" fill="#62a65e"/>
<line x1="864.5" y1="438.0" x2="864.5" y2="469.8" stroke="#62a65e" stroke-width="1.1"/>
<rect x="862.0" y="454.3" width="5" height="6.3" fill="#62a65e"/>
<line x1="871.5" y1="425.1" x2="871.5" y2="427.2" stroke="#d6403a" stroke-width="1.1"/>
<line x1="871.5" y1="460.6" x2="871.5" y2="464.7" stroke="#d6403a" stroke-width="1.1"/>
<rect x="869.5" y="427.7" width="4" height="32.4" fill="#fff" stroke="#d6403a" stroke-width="1"/>
<line x1="878.5" y1="422.0" x2="878.5" y2="443.6" stroke="#62a65e" stroke-width="1.1"/>
<rect x="876.0" y="427.1" width="5" height="15.6" fill="#62a65e"/>
<line x1="885.5" y1="417.0" x2="885.5" y2="449.9" stroke="#62a65e" stroke-width="1.1"/>
<line x1="883.0" y1="444.5" x2="888.0" y2="444.5" stroke="#62a65e" stroke-width="1.2"/>
<line x1="892.5" y1="438.0" x2="892.5" y2="451.8" stroke="#62a65e" stroke-width="1.1"/>
<line x1="890.0" y1="446.9" x2="895.0" y2="446.9" stroke="#62a65e" stroke-width="1.2"/>
<line x1="84" y1="447.5" x2="1138" y2="447.5" stroke="#1788ff" stroke-width="1.15" stroke-dasharray="3 3"/>
<polyline points="87.5,314.6 92.3,310.6 108.1,302.3 123.9,294.8 131.0,289.1 145.0,281.2 152.9,277.4 166.1,271.6 178.4,268.1 199.5,264.5 220.6,260.1 241.7,255.2 255.7,251.9 270.7,248.7 276.0,246.4 296.0,241.7 313.6,238.7 324.1,237.4 335.5,237.4 348.7,238.3 364.5,241.3 370.0,243.1 384.8,250.3 399.5,258.9 421.7,268.7 431.5,276.3 451.2,287.4 456.1,288.4 478.3,299.5 500.4,310.5 510.3,317.9 527.5,328.5 542.2,341.3 557.0,349.9 571.8,361.0 586.5,368.6 593.9,374.5 616.1,385.1 628.4,395.7 649.0,407.0 671.8,424.6 699.0,447.1 704.3,451.0 719.3,458.9 731.6,469.4 740.0,472.6 758.7,481.7 772.7,487.3 793.8,491.0 818.4,497.2 846.5,498.9 855.3,500.5 874.7,500.7 892.0,503.7" fill="none" stroke="#000" stroke-width="1" stroke-linejoin="round"/>
<path d="M148.3 110.6h6.7M150.6 107.7v5.3" stroke="#000" stroke-width="1"/>
<text x="155.3" y="107" class="hl" fill="#d6403a">1.3433</text>
<path d="M673.3 661.5h6.500M675.500 659.400v3.500" stroke="#000" stroke-width="1"/>
<text x="680.3" y="673" class="hl" fill="#62a65e">1.2099</text>
<line x1="87.5" y1="829.5" x2="87.5" y2="863.7" stroke="#62a65e" stroke-width="1"/>
<line x1="94.5" y1="829.5" x2="94.5" y2="838.8" stroke="#62a65e" stroke-width="1"/>
<line x1="101.5" y1="829.5" x2="101.5" y2="836.9" stroke="#62a65e" stroke-width="1"/>
<line x1="108.5" y1="829.5" x2="108.5" y2="825.0" stroke="#d6403a" stroke-width="1"/>
<line x1="115.5" y1="829.5" x2="115.5" y2="808.2" stroke="#d6403a" stroke-width="1"/>
<line x1="122.5" y1="829.5" x2="122.5" y2="794.9" stroke="#d6403a" stroke-width="1"/>
<line x1="129.5" y1="829.5" x2="129.5" y2="788.0" stroke="#d6403a" stroke-width="1"/>
<line x1="136.5" y1="829.5" x2="136.5" y2="777.1" stroke="#d6403a" stroke-width="1"/>
<line x1="143.5" y1="829.5" x2="143.5" y2="794.9" stroke="#d6403a" stroke-width="1"/>
<line x1="150.5" y1="829.5" x2="150.5" y2="793.0" stroke="#d6403a" stroke-width="1"/>
<line x1="157.5" y1="829.5" x2="157.5" y2="806.0" stroke="#d6403a" stroke-width="1"/>
<line x1="164.5" y1="829.5" x2="164.5" y2="817.0" stroke="#d6403a" stroke-width="1"/>
<line x1="171.5" y1="829.5" x2="171.5" y2="844.7" stroke="#62a65e" stroke-width="1"/>
<line x1="178.5" y1="829.5" x2="178.5" y2="863.7" stroke="#62a65e" stroke-width="1"/>
<line x1="185.5" y1="829.5" x2="185.5" y2="899.8" stroke="#62a65e" stroke-width="1"/>
<line x1="192.5" y1="829.5" x2="192.5" y2="914.7" stroke="#62a65e" stroke-width="1"/>
<line x1="199.5" y1="829.5" x2="199.5" y2="923.0" stroke="#62a65e" stroke-width="1"/>
<line x1="206.5" y1="829.5" x2="206.5" y2="917.6" stroke="#62a65e" stroke-width="1"/>
<line x1="213.5" y1="829.5" x2="213.5" y2="911.9" stroke="#62a65e" stroke-width="1"/>
<line x1="220.5" y1="829.5" x2="220.5" y2="903.6" stroke="#62a65e" stroke-width="1"/>
<line x1="227.5" y1="829.5" x2="227.5" y2="890.7" stroke="#62a65e" stroke-width="1"/>
<line x1="234.5" y1="829.5" x2="234.5" y2="879.1" stroke="#62a65e" stroke-width="1"/>
<line x1="241.5" y1="829.5" x2="241.5" y2="863.7" stroke="#62a65e" stroke-width="1"/>
<line x1="248.5" y1="829.5" x2="248.5" y2="865.4" stroke="#62a65e" stroke-width="1"/>
<line x1="255.5" y1="829.5" x2="255.5" y2="858.5" stroke="#62a65e" stroke-width="1"/>
<line x1="262.5" y1="829.5" x2="262.5" y2="842.8" stroke="#62a65e" stroke-width="1"/>
<line x1="269.5" y1="829.5" x2="269.5" y2="843.8" stroke="#62a65e" stroke-width="1"/>
<line x1="276.5" y1="829.5" x2="276.5" y2="840.7" stroke="#62a65e" stroke-width="1"/>
<line x1="283.5" y1="829.5" x2="283.5" y2="846.6" stroke="#62a65e" stroke-width="1"/>
<line x1="290.5" y1="829.5" x2="290.5" y2="836.9" stroke="#62a65e" stroke-width="1"/>
<line x1="297.5" y1="829.5" x2="297.5" y2="830.8" stroke="#62a65e" stroke-width="1"/>
<line x1="304.5" y1="829.5" x2="304.5" y2="822.9" stroke="#d6403a" stroke-width="1"/>
<line x1="311.5" y1="829.5" x2="311.5" y2="808.9" stroke="#d6403a" stroke-width="1"/>
<line x1="318.5" y1="829.5" x2="318.5" y2="810.8" stroke="#d6403a" stroke-width="1"/>
<line x1="325.5" y1="829.5" x2="325.5" y2="822.9" stroke="#d6403a" stroke-width="1"/>
<line x1="332.5" y1="829.5" x2="332.5" y2="825.0" stroke="#d6403a" stroke-width="1"/>
<line x1="339.5" y1="829.5" x2="339.5" y2="817.0" stroke="#d6403a" stroke-width="1"/>
<line x1="346.5" y1="829.5" x2="346.5" y2="795.8" stroke="#d6403a" stroke-width="1"/>
<line x1="353.5" y1="829.5" x2="353.5" y2="817.0" stroke="#d6403a" stroke-width="1"/>
<line x1="360.5" y1="829.5" x2="360.5" y2="806.8" stroke="#d6403a" stroke-width="1"/>
<line x1="367.5" y1="829.5" x2="367.5" y2="815.1" stroke="#d6403a" stroke-width="1"/>
<line x1="374.5" y1="829.5" x2="374.5" y2="828.5" stroke="#d6403a" stroke-width="1"/>
<line x1="381.5" y1="829.5" x2="381.5" y2="857.5" stroke="#62a65e" stroke-width="1"/>
<line x1="388.5" y1="829.5" x2="388.5" y2="875.6" stroke="#62a65e" stroke-width="1"/>
<line x1="395.5" y1="829.5" x2="395.5" y2="887.7" stroke="#62a65e" stroke-width="1"/>
<line x1="402.5" y1="829.5" x2="402.5" y2="895.7" stroke="#62a65e" stroke-width="1"/>
<line x1="409.5" y1="829.5" x2="409.5" y2="879.6" stroke="#62a65e" stroke-width="1"/>
<line x1="416.5" y1="829.5" x2="416.5" y2="862.8" stroke="#62a65e" stroke-width="1"/>
<line x1="423.5" y1="829.5" x2="423.5" y2="852.8" stroke="#62a65e" stroke-width="1"/>
<line x1="430.5" y1="829.5" x2="430.5" y2="853.7" stroke="#62a65e" stroke-width="1"/>
<line x1="437.5" y1="829.5" x2="437.5" y2="859.7" stroke="#62a65e" stroke-width="1"/>
<line x1="444.5" y1="829.5" x2="444.5" y2="849.7" stroke="#62a65e" stroke-width="1"/>
<line x1="451.5" y1="829.5" x2="451.5" y2="837.8" stroke="#62a65e" stroke-width="1"/>
<line x1="458.5" y1="829.5" x2="458.5" y2="805.8" stroke="#d6403a" stroke-width="1"/>
<line x1="465.5" y1="829.5" x2="465.5" y2="787.1" stroke="#d6403a" stroke-width="1"/>
<line x1="472.5" y1="829.5" x2="472.5" y2="767.9" stroke="#d6403a" stroke-width="1"/>
<line x1="479.5" y1="829.5" x2="479.5" y2="775.9" stroke="#d6403a" stroke-width="1"/>
<line x1="486.5" y1="829.5" x2="486.5" y2="777.8" stroke="#d6403a" stroke-width="1"/>
<line x1="493.5" y1="829.5" x2="493.5" y2="775.9" stroke="#d6403a" stroke-width="1"/>
<line x1="500.5" y1="829.5" x2="500.5" y2="766.9" stroke="#d6403a" stroke-width="1"/>
<line x1="507.5" y1="829.5" x2="507.5" y2="769.0" stroke="#d6403a" stroke-width="1"/>
<line x1="514.5" y1="829.5" x2="514.5" y2="772.8" stroke="#d6403a" stroke-width="1"/>
<line x1="521.5" y1="829.5" x2="521.5" y2="775.9" stroke="#d6403a" stroke-width="1"/>
<line x1="528.5" y1="829.5" x2="528.5" y2="784.9" stroke="#d6403a" stroke-width="1"/>
<line x1="535.5" y1="829.5" x2="535.5" y2="807.9" stroke="#d6403a" stroke-width="1"/>
<line x1="542.5" y1="829.5" x2="542.5" y2="832.9" stroke="#62a65e" stroke-width="1"/>
<line x1="549.5" y1="829.5" x2="549.5" y2="832.9" stroke="#62a65e" stroke-width="1"/>
<line x1="556.5" y1="829.5" x2="556.5" y2="828.1" stroke="#d6403a" stroke-width="1"/>
<line x1="563.5" y1="829.5" x2="563.5" y2="845.9" stroke="#62a65e" stroke-width="1"/>
<line x1="570.5" y1="829.5" x2="570.5" y2="873.7" stroke="#62a65e" stroke-width="1"/>
<line x1="577.5" y1="829.5" x2="577.5" y2="868.7" stroke="#62a65e" stroke-width="1"/>
<line x1="584.5" y1="829.5" x2="584.5" y2="868.7" stroke="#62a65e" stroke-width="1"/>
<line x1="591.5" y1="829.5" x2="591.5" y2="863.7" stroke="#62a65e" stroke-width="1"/>
<line x1="598.5" y1="829.5" x2="598.5" y2="859.7" stroke="#62a65e" stroke-width="1"/>
<line x1="605.5" y1="829.5" x2="605.5" y2="841.9" stroke="#62a65e" stroke-width="1"/>
<line x1="612.5" y1="829.5" x2="612.5" y2="834.8" stroke="#62a65e" stroke-width="1"/>
<line x1="619.5" y1="829.5" x2="619.5" y2="835.7" stroke="#62a65e" stroke-width="1"/>
<line x1="626.5" y1="829.5" x2="626.5" y2="859.7" stroke="#62a65e" stroke-width="1"/>
<line x1="633.5" y1="829.5" x2="633.5" y2="858.7" stroke="#62a65e" stroke-width="1"/>
<line x1="640.5" y1="829.5" x2="640.5" y2="835.7" stroke="#62a65e" stroke-width="1"/>
<line x1="647.5" y1="829.5" x2="647.5" y2="828.1" stroke="#d6403a" stroke-width="1"/>
<line x1="654.5" y1="829.5" x2="654.5" y2="844.7" stroke="#62a65e" stroke-width="1"/>
<line x1="661.5" y1="829.5" x2="661.5" y2="859.7" stroke="#62a65e" stroke-width="1"/>
<line x1="668.5" y1="829.5" x2="668.5" y2="881.7" stroke="#62a65e" stroke-width="1"/>
<line x1="675.5" y1="829.5" x2="675.5" y2="885.5" stroke="#62a65e" stroke-width="1"/>
<line x1="682.5" y1="829.5" x2="682.5" y2="877.7" stroke="#62a65e" stroke-width="1"/>
<line x1="689.5" y1="829.5" x2="689.5" y2="862.8" stroke="#62a65e" stroke-width="1"/>
<line x1="696.5" y1="829.5" x2="696.5" y2="846.6" stroke="#62a65e" stroke-width="1"/>
<line x1="703.5" y1="829.5" x2="703.5" y2="846.6" stroke="#62a65e" stroke-width="1"/>
<line x1="710.5" y1="829.5" x2="710.5" y2="812.0" stroke="#d6403a" stroke-width="1"/>
<line x1="717.5" y1="829.5" x2="717.5" y2="785.9" stroke="#d6403a" stroke-width="1"/>
<line x1="724.5" y1="829.5" x2="724.5" y2="780.0" stroke="#d6403a" stroke-width="1"/>
<line x1="731.5" y1="829.5" x2="731.5" y2="770.0" stroke="#d6403a" stroke-width="1"/>
<line x1="738.5" y1="829.5" x2="738.5" y2="742.9" stroke="#d6403a" stroke-width="1"/>
<line x1="745.5" y1="829.5" x2="745.5" y2="731.1" stroke="#d6403a" stroke-width="1"/>
<line x1="752.5" y1="829.5" x2="752.5" y2="742.9" stroke="#d6403a" stroke-width="1"/>
<line x1="759.5" y1="829.5" x2="759.5" y2="755.0" stroke="#d6403a" stroke-width="1"/>
<line x1="766.5" y1="829.5" x2="766.5" y2="774.0" stroke="#d6403a" stroke-width="1"/>
<line x1="773.5" y1="829.5" x2="773.5" y2="793.0" stroke="#d6403a" stroke-width="1"/>
<line x1="780.5" y1="829.5" x2="780.5" y2="795.8" stroke="#d6403a" stroke-width="1"/>
<line x1="787.5" y1="829.5" x2="787.5" y2="794.9" stroke="#d6403a" stroke-width="1"/>
<line x1="794.5" y1="829.5" x2="794.5" y2="794.0" stroke="#d6403a" stroke-width="1"/>
<line x1="801.5" y1="829.5" x2="801.5" y2="810.1" stroke="#d6403a" stroke-width="1"/>
<line x1="808.5" y1="829.5" x2="808.5" y2="828.1" stroke="#d6403a" stroke-width="1"/>
<line x1="815.5" y1="829.5" x2="815.5" y2="845.7" stroke="#62a65e" stroke-width="1"/>
<line x1="822.5" y1="829.5" x2="822.5" y2="838.8" stroke="#62a65e" stroke-width="1"/>
<line x1="829.5" y1="829.5" x2="829.5" y2="834.8" stroke="#62a65e" stroke-width="1"/>
<line x1="836.5" y1="829.5" x2="836.5" y2="810.1" stroke="#d6403a" stroke-width="1"/>
<line x1="843.5" y1="829.5" x2="843.5" y2="795.8" stroke="#d6403a" stroke-width="1"/>
<line x1="850.5" y1="829.5" x2="850.5" y2="784.9" stroke="#d6403a" stroke-width="1"/>
<line x1="857.5" y1="829.5" x2="857.5" y2="785.9" stroke="#d6403a" stroke-width="1"/>
<line x1="864.5" y1="829.5" x2="864.5" y2="797.0" stroke="#d6403a" stroke-width="1"/>
<line x1="871.5" y1="829.5" x2="871.5" y2="793.0" stroke="#d6403a" stroke-width="1"/>
<line x1="878.5" y1="829.5" x2="878.5" y2="803.0" stroke="#d6403a" stroke-width="1"/>
<line x1="885.5" y1="829.5" x2="885.5" y2="812.9" stroke="#d6403a" stroke-width="1"/>
<line x1="892.5" y1="829.5" x2="892.5" y2="824.1" stroke="#d6403a" stroke-width="1"/>
<polyline points="87.5,804.4 94.5,805.6 101.5,806.5 108.5,805.6 115.5,803.2 122.5,798.0 129.5,792.5 136.5,787.3 143.5,783.0 150.5,778.8 157.5,775.4 164.5,774.3 171.5,776.4 178.5,780.7 185.5,789.7 192.5,799.6 199.5,811.5 206.5,822.9 213.5,834.0 220.5,843.1 227.5,850.2 234.5,855.9 241.5,860.1 248.5,864.7 255.5,868.0 262.5,869.6 269.5,871.3 276.5,872.7 283.5,874.4 290.5,875.8 297.5,876.3 304.5,875.6 311.5,872.7 318.5,870.6 325.5,869.4 332.5,868.9 339.5,867.3 346.5,863.7 353.5,862.0 360.5,859.0 367.5,857.3 374.5,857.3 381.5,860.9 388.5,866.8 395.5,874.4 402.5,882.7 409.5,888.6 416.5,892.6 423.5,895.7 430.5,899.3 437.5,902.8 444.5,904.5 451.5,905.5 458.5,901.7 465.5,895.7 472.5,888.1 479.5,881.5 486.5,874.4 493.5,868.4 500.5,861.3 507.5,853.7 514.5,846.6 521.5,840.7 528.5,836.4 535.5,833.6 542.5,833.6 549.5,834.0 556.5,834.3 563.5,835.9 570.5,840.5 577.5,846.6 584.5,851.8 591.5,855.9 598.5,859.4 605.5,861.6 612.5,862.5 619.5,862.8 626.5,866.5 633.5,870.1 640.5,871.3 647.5,870.8 654.5,872.5 661.5,876.7 668.5,883.9 675.5,891.0 682.5,896.9 689.5,900.5 696.5,902.8 703.5,904.5 710.5,902.4 717.5,896.4 724.5,889.1 731.5,880.3 738.5,868.4 745.5,855.4 752.5,844.7 759.5,837.6 766.5,832.4 773.5,829.3 780.5,824.1 787.5,820.5 794.5,817.0 801.5,813.4 808.5,813.6 815.5,815.3 822.5,816.3 829.5,817.0 836.5,814.8 843.5,809.7 850.5,805.1 857.5,800.8 864.5,796.8 871.5,792.1 878.5,788.7 885.5,786.6 892.5,784.9" fill="none" stroke="#0c0c96" stroke-width="1.1" stroke-linejoin="round"/>
<polyline points="87.5,821.9 94.5,810.6 101.5,809.4 108.5,803.7 115.5,793.0 122.5,781.9 129.5,772.8 136.5,761.4 143.5,766.2 150.5,760.5 157.5,764.5 164.5,768.6 171.5,783.0 178.5,799.2 185.5,824.3 192.5,843.5 199.5,858.5 206.5,867.0 213.5,874.4 220.5,879.1 227.5,880.5 234.5,880.3 241.5,876.5 248.5,882.2 255.5,882.2 262.5,876.5 269.5,878.4 276.5,878.9 283.5,883.4 290.5,879.6 297.5,876.0 304.5,872.2 311.5,862.3 318.5,861.3 325.5,866.1 332.5,867.5 339.5,862.5 346.5,847.3 353.5,855.4 360.5,848.5 367.5,850.4 374.5,857.8 381.5,873.2 388.5,888.6 395.5,902.4 402.5,915.2 409.5,913.3 416.5,909.5 423.5,907.6 430.5,911.2 437.5,917.1 444.5,913.5 451.5,908.3 458.5,889.3 465.5,874.4 472.5,859.4 479.5,856.6 486.5,851.8 493.5,843.1 500.5,831.0 507.5,825.0 514.5,820.3 521.5,814.6 528.5,814.6 535.5,823.4 542.5,834.8 549.5,836.4 556.5,834.0 563.5,848.3 570.5,864.4 577.5,866.1 584.5,871.3 591.5,873.2 598.5,874.4 605.5,867.7 612.5,864.4 619.5,865.6 626.5,881.5 633.5,884.3 640.5,874.4 647.5,870.3 654.5,878.4 661.5,891.7 668.5,907.6 675.5,917.8 682.5,920.2 689.5,916.4 696.5,911.2 703.5,912.3 710.5,894.5 717.5,875.6 724.5,864.9 731.5,853.0 738.5,830.5 745.5,811.5 752.5,806.8 759.5,803.2 766.5,805.1 773.5,811.5 780.5,807.9 787.5,803.9 794.5,799.2 801.5,804.4 808.5,813.4 815.5,823.4 822.5,821.7 829.5,820.4 836.5,804.4 843.5,793.7 850.5,783.0 857.5,778.3 864.5,780.2 871.5,773.5 878.5,775.4 885.5,778.3 892.5,782.6" fill="none" stroke="#000" stroke-width="1" stroke-linejoin="round"/>
<g transform="translate(21.95,711.8)"><circle r="3.55" fill="#fff" stroke="#000" stroke-width="0.95"/><circle r="2" fill="#f00"/><path d="M-0.45 -7.3v2M-0.45 7.2v-2M-7.2 -0.3h2M7.2 -0.3h-2M-5.7 -5.7l1.5 1.5M5.500 -5.700l-1.500 1.500M-5.700 5.500l1.500 -1.500M5.500 5.500l-1.500 -1.500" stroke="#f00" stroke-width="1"/></g>
<line x1="83" y1="923.5" x2="1138" y2="923.5" stroke="#e2e9f1"/>
<line x1="171.5" y1="924" x2="171.5" y2="929" stroke="#d5dde8"/>
<text x="173.5" y="936.3" class="dt">2024/10</text>
<line x1="332.5" y1="924" x2="332.5" y2="929" stroke="#d5dde8"/>
<text x="334.5" y="936.3" class="dt">2024/11</text>
<line x1="479.5" y1="924" x2="479.5" y2="929" stroke="#d5dde8"/>
<text x="481.5" y="936.3" class="dt">2024/12</text>
<line x1="626.5" y1="924" x2="626.5" y2="929" stroke="#d5dde8"/>
<text x="628.5" y="936.3" class="dt">2025/01</text>
<line x1="780.2" y1="924" x2="780.2" y2="929" stroke="#d5dde8"/>
<text x="782.2" y="936.3" class="dt">2025/02</text>
</svg>
<div class="lg" style="left:85px;top:25px;font-size:11.9px;font-weight:400;font-family:'Liberation Sans','Noto Sans CJK SC',sans-serif">英镑美元</div>
<div class="lg" style="left:132px;top:25px;font-size:12.2px;color:#ff7f00;font-family:'Liberation Sans','Noto Sans CJK SC',sans-serif">【日线】</div>
<svg style="position:absolute;left:180px;top:27.5px" width="11" height="11" viewBox="0 0 11 11"><circle cx="5.7" cy="5.5" r="4" fill="none" stroke="#ff7f00" stroke-width="0.9"/><path d="M1.7 5.5h8M5.7 1.500v8" stroke="#ff7f00" stroke-width="0.9"/></svg>
<svg style="position:absolute;left:198px;top:22.850px" width="14" height="15" viewBox="0 0 14 15"><path d="M1.500 13.700h10.500M12.500 1.500v11.500" stroke="#8a8a78" stroke-width="1"/><rect x="0.500" y="0.500" width="11.100" height="12.300" fill="#fff" stroke="#00008b" stroke-width="1" rx="0.800"/><path d="M1.300 7.600L4.400 3.500l3.100 3.200 2-2.100h1.600" fill="none" stroke="#f00" stroke-width="0.950"/><path d="M1.300 10.700L4.400 6.600l3.100 3.200 2-2.300h1.600" fill="none" stroke="#1010e0" stroke-width="0.950"/></svg>
<div class="lg" style="left:213.5px">MA1(55,0,0,0)</div>
<div class="lg" style="left:296.5px">MA55:1.2482</div>
<div class="lg" style="left:380px;color:#00008b">MA0:1.2616</div>
<div class="lg" style="left:455px;color:#ff00ff">MA0:1.2616</div>
<div class="lg" style="left:531px;color:#ff8000">MA0:1.2616</div>
<div class="lg" style="left:85.5px;top:708px;font-size:12.2px">MACD(13,8,9) DIFF:0.0031</div>
<div class="lg" style="left:243px;top:708px;font-size:12.2px;color:#00008b">DEA:0.0030</div>
<div class="lg" style="left:315.5px;top:708px;font-size:12.2px;color:#ff00ff">MACD:0.0003</div>
<div id="wm">FX678</div>
<div id="tbar">
<div class="tb" style="left:64px;width:71px"><span class="cj" style="font-size:12px;padding-left:15px">首页</span></div>
<div class="tb" style="left:136px;width:66px"></div>
<div class="tb" style="left:203px;width:46px"></div>
<div class="tb" style="left:249px;width:46.5px"></div>
<div class="tb" style="left:295.5px;width:46.5px"><span style="font-size:16px;letter-spacing:0.3px;position:relative;top:-0.5px">tick</span></div>
<div class="tb" style="left:342px;width:48px"><span class="cj">5日</span></div>
<div class="tb" style="left:390px;width:28px"><span class="cj">5</span></div>
<div class="tb" style="left:418px;width:28px"><span class="cj">15</span></div>
<div class="tb" style="left:446px;width:28px"><span class="cj">30</span></div>
<div class="tb" style="left:474px;width:28px"><span class="cj">60</span></div>
<div class="tb" style="left:502px;width:28px"><span class="cj">2H</span></div>
<div class="tb" style="left:530px;width:28px"><span class="cj">4H</span></div>
<div class="tb" style="left:558px;width:28px"><span class="cj">日</span></div>
<div class="tb" style="left:586px;width:28px"><span class="cj">周</span></div>
<div class="tb" style="left:614px;width:28px"><span class="cj">月</span></div>
<div class="tb" style="left:642px;width:28px"><span class="cj">年</span></div>
<div class="tb" style="left:670px;width:71px"><span class="cj" style="font-size:12px;padding-left:16.5px">更多</span></div>
<div class="tb" style="left:741px;width:28px"></div>
<div class="tb" style="left:769px;width:47px"></div>
<div class="tb" style="left:816px;width:47px"></div>
<div class="tb" style="left:863px;width:47px"></div>
<div class="tb" style="left:910px;width:28px"></div>
<div class="tb" style="left:938px;width:27px"></div>
<div class="tb" style="left:965px;width:77px"><span style="font-weight:bold;font-size:15px;position:relative;top:-0.5px;margin-right:3px">$</span><span class="cj" style="font-size:12.8px">模拟交易</span></div>
<div class="tb" style="left:1042px;width:83px"><span class="cj" style="font-size:11.8px;padding-left:24px">汇通财经</span></div>
<div class="tb" style="left:1125px;width:15px"></div>
<svg style="position:absolute;left:0;top:0;pointer-events:none" width="1138" height="21" viewBox="0 0 1138 21">
<g fill="#2f3a48" stroke="none">
<path d="M84.5 2.2L77.6 9h2.2v5.7h3.4v-3.9h2.9v3.9h3.3V9h1.9z"/>
<path d="M172.3 7.3h6.2l-3.1 4.4z"/>
<path d="M216 15.7v-2.8l2.8-1.6v4.4zM221 15.7v-7.4l2.8-1.2v8.6zM226 15.7v-4.4l2.8-2.1v6.5zM231 15.7v-9.4l3-2.5v11.9z"/>
<path d="M262.2 6.6l1.45-1.4 1.45 1.4v3.8l-1.45 1.4-1.45-1.4z"/>
<rect x="268" y="3.2" width="2.6" height="7.2"/><rect x="273.3" y="7.9" width="3" height="3.8"/><rect x="278.7" y="7.1" width="3.3" height="4.2"/>
<path d="M881.2 13.4l0.9-3.2 7.2-7.2 2.4 2.4-7.2 7.2z"/><path d="M890.2 2.1l1.2-1.2 2.4 2.4-1.2 1.2z"/>
</g>
<g fill="none" stroke="#2f3a48">
<path d="M172.2 14.1A6.5 6.5 0 1 1 175.4 8.5" stroke-width="1.5"/>
<path d="M216 9.6L222.5 3.3l4.4 4L233.8 1.3" stroke-width="1.3"/>
<path d="M269.3 1v14.7M274.8 5v9.9M280.4 3.2v11.7" stroke-width="1"/>
<path d="M684.8 4h12.4M684.8 8.7h12.4M684.8 13.2h12.4" stroke-width="2.5" stroke-linecap="round"/>
<path d="M755.8 1.8c-3.2-1-4.3.4-4.7 3.2l-1.2 8c-.4 2-1.500 2.5-3 1.800M747.8 6.300h6.200" stroke-width="1.6"/>
<path d="M755.2 9l5.800 5.800M761 9l-5.800 5.800" stroke-width="1.8"/>
<circle cx="792" cy="8.100" r="6.200" stroke-width="1"/><path d="M789 7.600h6" stroke-width="1.100"/><path d="M796.500 12.500l3.300 3.200" stroke-width="1.200"/>
<circle cx="839.200" cy="8.100" r="6.200" stroke-width="1"/><path d="M836.200 7.600h6M839.200 4.600v6" stroke-width="1.100"/><path d="M843.700 12.500l3.300 3.200" stroke-width="1.200"/>
<path d="M879 15.500h14.600" stroke-width="1"/>
<path d="M914 1.500h18.800" stroke-width="1"/><path d="M914.600 16.200L923.400 5.200l8.800 11" stroke-width="1.200"/><path d="M914 16.500h19" stroke="#8a8f9a" stroke-width="1.800"/>
<path d="M942.200 16.300h18.600" stroke-width="1"/><path d="M942.800 1.200L951.300 12.900l8.800-11.700" stroke-width="1.200"/><path d="M942.100 0.700h18.800" stroke="#8a8f9a" stroke-width="1.600"/>
<circle cx="1062.300" cy="8.300" r="5.800" stroke-width="1.200"/><path d="M1062.300 2.500a5.800 5.800 0 0 1 0 11.600" stroke-width="2.200"/><path d="M1063.300 5.500a3 3 0 1 0 2 3.800" stroke-width="1.300"/><path d="M1056.800 10.500a6 6 0 0 0 5 3.600" stroke-width="2"/>
</g></svg>
</div>
<div id="back"><svg style="position:absolute;left:3px;top:2px" width="26" height="16" viewBox="0 0 26 16"><path d="M5.500 5.200L11.500 0.500v3c5 0 7.500 2 8.500 6.500-2.200-2.600-4.500-3.200-8.500-3.200v3.200z" fill="#fff" opacity="0.9"/></svg><span style="position:absolute;left:24px;top:0" class="cj">返回</span><svg style="position:absolute;left:0;top:4px" width="4" height="6" viewBox="0 0 4 6"><path d="M0 0.800L2.600 4.700L0 5.300z" fill="#fff"/></svg></div>
<div id="side">
<div class="st" style="top:0;height:52px"></div>
<div class="st" style="top:52px;height:45px;background:#ff6a00;border-bottom:none"></div>
<div class="st" style="top:97px;height:53px"></div>
<div class="st" style="top:150px;height:64px"></div>
<span class="sc" style="top:5.4px">分</span>
<span class="sc" style="top:19.1px">时</span>
<span class="sc" style="top:32.8px">图</span>
<span class="sc" style="top:70.4px;color:#fff">线</span>
<span class="sc" style="top:83.5px;color:#fff">图</span>
<span class="sc" style="top:104.8px">闪</span>
<span class="sc" style="top:118.8px">电</span>
<span class="sc" style="top:132.1px">图</span>
<span class="sc" style="top:157.4px">合</span>
<span class="sc" style="top:170.6px">约</span>
<span class="sc" style="top:183.3px">资</span>
<span class="sc" style="top:195.8px">料</span>
<span class="sc" style="top:57.500px;color:#fff;font-size:10px;left:-0.500px;width:8px;font-family:'Liberation Serif',serif">K</span>
</div>
<div id="tip"><span>返回</span></div>
<div id="per">日线 ▲</div>
<div id="tabs">
<div class="tab on" style="left:0px;width:39px">指标</div>
<div class="tab " style="left:40px;width:39px">模板</div>
<div class="tab vip" style="left:80px;width:57px"><span style="font-size:11.5px;letter-spacing:-0.9px;font-family:Liberation Mono,monospace">VIP</span>指标</div>
<div class="tab m" style="left:138px;width:27px">MA</div>
<div class="tab m" style="left:166px;width:39px">MACD</div>
<div class="tab m" style="left:206px;width:39px">BOLL</div>
<div class="tab m" style="left:246px;width:34px">VOL</div>
<div class="tab m" style="left:281px;width:38px">BIAS</div>
<div class="tab m" style="left:320px;width:33px">CCI</div>
<div class="tab m" style="left:354px;width:33px">KDJ</div>
<div class="tab m" style="left:388px;width:39px">LW&amp;</div>
<div class="tab m" style="left:428px;width:34px">RSI</div>
<div class="tab m" style="left:463px;width:27px">CR</div>
<div class="tab m" style="left:491px;width:33px">PSY</div>
<div class="tab " style="left:525px;width:38px">设置</div>
</div>
<div id="bl"></div>
<div id="thumb"></div>
<svg style="position:absolute;left:821px;top:959px" width="8" height="4" viewBox="0 0 8 4"><circle cx="4" cy="4" r="3" fill="#555"/></svg>
</body></html>
